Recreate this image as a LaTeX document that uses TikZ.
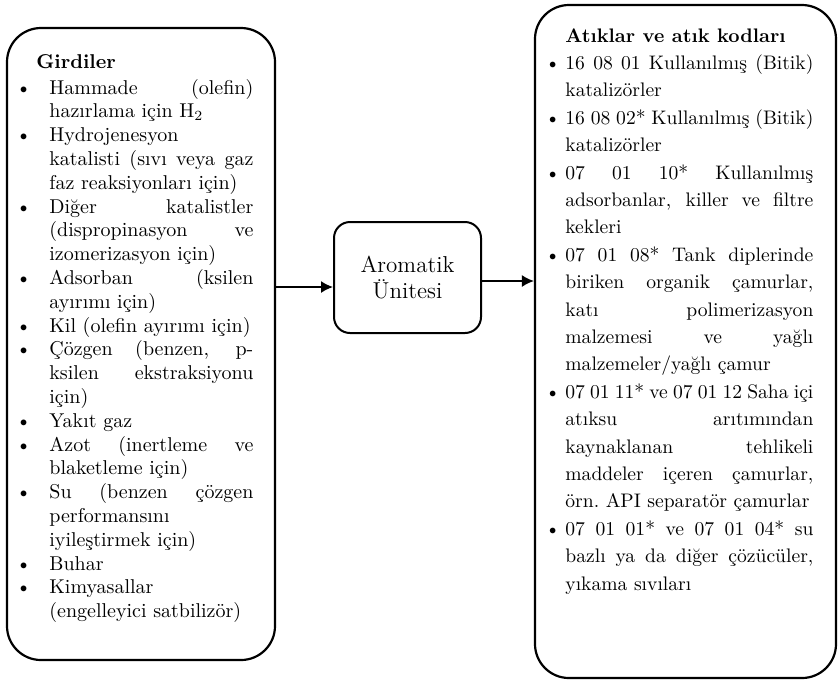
\documentclass[tikz,border=0pt]{standalone}
\usepackage{tikz}
\usetikzlibrary{arrows.meta, positioning, calc}

\newcommand{\madde}[1][9pt]{\par\noindent\llap{\textbullet\hspace{#1}}\ignorespaces}

\begin{document}
\begin{tikzpicture}[x=0.5pt, y=-0.5pt,
      panel/.style={draw, line width=1.1pt, rounded corners=17pt},
      unitbox/.style={draw, line width=1pt, rounded corners=8pt,
                      minimum width=73.5pt, minimum height=55.5pt,
                      align=center, font=\fontsize{11.5}{13}\selectfont},
      liste/.style={anchor=north west, inner sep=0pt, align=justify},
      arr/.style={-{Latex[length=6pt, width=6pt]}, line width=0.8pt}
    ]
      \useasboundingbox (0,0) rectangle (840,682);
      \tolerance=10000 \hbadness=10000 \hyphenpenalty=10000

      % Girdiler
      \node[panel, minimum width=134pt, minimum height=316pt] (inbox) at (141,344) {};
      \node[liste, text width=102pt, font=\fontsize{10}{11.9}\selectfont] (inlist) at (49,54) {%
        \noindent\hspace*{-6.5pt}\textbf{Girdiler}\par\vspace{1pt}
        \madde Hammade (olefin)\linebreak hazırlama için H\textsubscript{2}
        \madde Hydrojenesyon\linebreak katalisti (sıvı veya gaz\linebreak faz reaksiyonları için)
        \madde Diğer katalistler\linebreak (dispropinasyon ve\linebreak izomerizasyon için)
        \madde Adsorban (ksilen\linebreak ayırımı için)
        \madde Kil (olefin ayırımı için)
        \madde Çözgen (benzen, p-\linebreak ksilen ekstraksiyonu\linebreak için)
        \madde Yakıt gaz
        \madde Azot (inertleme ve\linebreak blaketleme için)
        \madde Su (benzen çözgen\linebreak performansını\linebreak iyileştirmek için)
        \madde Buhar
        \madde Kimyasallar\linebreak (engelleyici satbilizör)};

      % Unite
      \node[unitbox] (unit) at (407.5,277.5) {Aromatik\\Ünitesi};

      % Atiklar
      \node[panel, minimum width=150.5pt, minimum height=336.5pt] (outbox) at (685.5,341.5) {};
      \node[liste, text width=124pt, font=\fontsize{9.8}{13.7}\selectfont] (outlist) at (565,28) {%
        \noindent\textbf{Atıklar ve atık kodları}
        \madde[2.5pt] 16 08 01 Kullanılmış (Bitik)\linebreak katalizörler
        \madde[2.5pt] 16 08 02* Kullanılmış (Bitik)\linebreak katalizörler
        \madde[2.5pt] 07 01 10* Kullanılmış\linebreak adsorbanlar, killer ve filtre\linebreak kekleri
        \madde[2.5pt] 07 01 08* Tank diplerinde\linebreak biriken organik çamurlar,\linebreak katı polimerizasyon\linebreak malzemesi ve yağlı\linebreak malzemeler/yağlı çamur
        \madde[2.5pt] 07 01 11* ve 07 01 12 Saha içi\linebreak atıksu arıtımından\linebreak kaynaklanan tehlikeli\linebreak maddeler içeren çamurlar,\linebreak örn.\ API separatör çamurlar
        \madde[2.5pt] 07 01 01* ve 07 01 04* su\linebreak bazlı ya da diğer çözücüler,\linebreak yıkama sıvıları};

      % Oklar
      \coordinate (girisnok) at ([yshift=-4.75pt]unit.west);
      \draw[arr] (inbox.east |- girisnok) -- (girisnok);
      \coordinate (cikisnok) at ([yshift=-1.75pt]unit.east);
      \draw[arr] (cikisnok) -- (outbox.west |- cikisnok);
    \end{tikzpicture}
\end{document}
